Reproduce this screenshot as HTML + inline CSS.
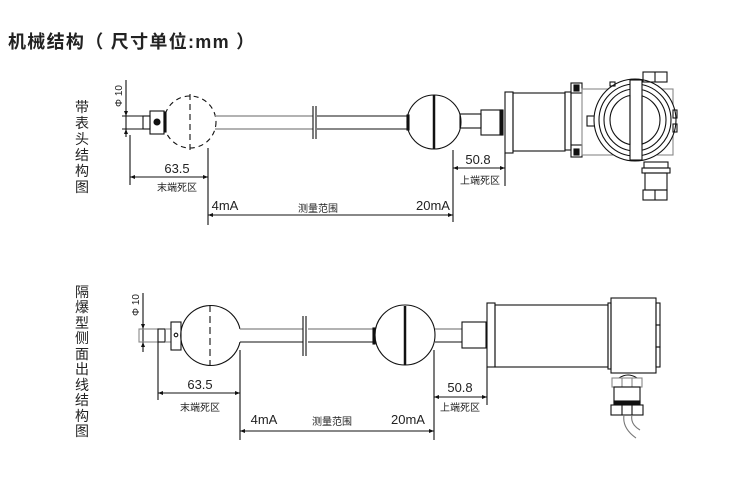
<!DOCTYPE html>
<html><head><meta charset="utf-8"><style>
html,body{margin:0;padding:0;background:#fff;}
svg{display:block;font-family:"Liberation Sans","Noto Sans CJK SC",sans-serif;}
</style></head><body>
<svg width="748" height="484" viewBox="0 0 748 484" xmlns="http://www.w3.org/2000/svg">
<text x="8" y="48" font-size="18" font-weight="bold" fill="#222" letter-spacing="1.3" font-family="'Liberation Sans','Noto Sans CJK SC',sans-serif">机械结构（ 尺寸单位:mm ）</text>

<!-- vertical labels -->
<g font-size="14" fill="#222" text-anchor="middle">
<text x="82" y="112">带</text><text x="82" y="128">表</text><text x="82" y="144">头</text><text x="82" y="160">结</text><text x="82" y="176">构</text><text x="82" y="192">图</text>
<text x="82" y="297">隔</text><text x="82" y="312">爆</text><text x="82" y="328">型</text><text x="82" y="343">侧</text><text x="82" y="359">面</text><text x="82" y="374">出</text><text x="82" y="390">线</text><text x="82" y="405">结</text><text x="82" y="421">构</text><text x="82" y="436">图</text>
</g>

<g stroke="#111" fill="none" stroke-width="1.1">
<!-- ===== TOP ===== -->
<line x1="126" y1="80" x2="126" y2="137"/>
<line x1="122" y1="116" x2="143" y2="116"/><line x1="122" y1="129" x2="143" y2="129"/>
<rect x="143" y="116" width="7" height="13"/>
<rect x="150" y="111" width="14" height="23"/>
<circle cx="157" cy="122" r="3" fill="#111"/>
<rect x="164" y="112" width="2" height="20" fill="#111"/>
<circle cx="190" cy="122" r="26" stroke-dasharray="5,4"/>
<line x1="190" y1="94" x2="190" y2="152" stroke-dasharray="6,4"/>
<line x1="215" y1="116" x2="313" y2="116" stroke="#999" stroke-width="1.5"/><line x1="215" y1="129" x2="313" y2="129" stroke="#999" stroke-width="1.5"/>
<line x1="317" y1="116" x2="408" y2="116"/><line x1="317" y1="129" x2="408" y2="129"/>
<line x1="313" y1="106" x2="313" y2="139"/><line x1="316" y1="106" x2="316" y2="139"/>
<rect x="407" y="115" width="2" height="15" fill="#111"/>
<circle cx="434" cy="122" r="27"/>
<line x1="434" y1="95" x2="434" y2="149" stroke-width="2.5"/>
<rect x="460" y="114" width="21" height="14"/>
<rect x="481" y="110" width="21" height="25"/>
<rect x="500" y="110" width="3" height="25" fill="#111"/>
<rect x="505" y="92" width="8" height="61"/>
<rect x="513" y="93" width="52" height="58"/>
<rect x="565" y="92" width="6" height="58"/>
<rect x="571" y="83" width="11" height="10"/><rect x="574" y="85" width="5" height="6" fill="#111"/>
<rect x="571" y="145" width="11" height="12"/><rect x="574" y="149" width="5" height="6" fill="#111"/>
<line x1="571" y1="93" x2="571" y2="145"/>
<rect x="582" y="89" width="91" height="66" stroke="#888"/>
<rect x="587" y="116" width="10" height="10"/>
<circle cx="635" cy="120" r="41" fill="#fff"/>
<circle cx="635" cy="120" r="36"/>
<circle cx="635" cy="120" r="31"/>
<circle cx="635" cy="120" r="25"/>
<rect x="630" y="80" width="12" height="80" fill="#fff"/>
<line x1="630" y1="95" x2="630" y2="145"/><line x1="642" y1="95" x2="642" y2="145"/>
<rect x="643" y="72" width="24" height="10"/><line x1="655" y1="72" x2="655" y2="82"/>
<rect x="673" y="110" width="4" height="8"/><rect x="673" y="124" width="4" height="8"/>
<rect x="610" y="82" width="5" height="4"/>
<rect x="644" y="162" width="24" height="6"/><rect x="642" y="168" width="28" height="5"/>
<rect x="645" y="173" width="22" height="17"/><rect x="643" y="190" width="24" height="10"/><line x1="655" y1="190" x2="655" y2="200"/>

<!-- top dims -->
<line x1="130" y1="135" x2="130" y2="185"/>
<line x1="208" y1="148" x2="208" y2="225"/>
<line x1="130" y1="177" x2="208" y2="177"/>
<line x1="208" y1="215" x2="453" y2="215"/>
<line x1="453" y1="150" x2="453" y2="222"/>
<line x1="453" y1="168" x2="505" y2="168"/>
<line x1="505" y1="153" x2="505" y2="186"/>

<!-- ===== BOTTOM ===== -->
<line x1="143" y1="293" x2="143" y2="352"/>
<rect x="139" y="329" width="19" height="13" stroke="#888"/>
<rect x="158" y="329" width="7" height="13"/>
<line x1="165" y1="329" x2="171" y2="329" stroke="#888"/><line x1="165" y1="342" x2="171" y2="342" stroke="#888"/>
<rect x="171" y="322" width="10" height="28"/>
<circle cx="176" cy="335" r="1.8"/>
<path d="M240 329 A30 30 0 1 0 240 342"/>
<line x1="210" y1="305" x2="210" y2="365" stroke-dasharray="7,4"/>
<line x1="240" y1="329" x2="303" y2="329" stroke="#999" stroke-width="1.5"/><line x1="240" y1="342" x2="303" y2="342"/>
<line x1="308" y1="329" x2="374" y2="329" stroke="#999" stroke-width="1.5"/><line x1="308" y1="342" x2="374" y2="342"/>
<line x1="303" y1="316" x2="303" y2="356"/><line x1="306" y1="316" x2="306" y2="356"/>
<rect x="373" y="328" width="2" height="16" fill="#111"/>
<circle cx="405" cy="335" r="30"/>
<line x1="405" y1="306" x2="405" y2="365" stroke-width="2.5"/>
<line x1="435" y1="329" x2="462" y2="329" stroke="#999" stroke-width="1.5"/><line x1="435" y1="342" x2="462" y2="342"/>
<rect x="462" y="322" width="24" height="26"/>
<rect x="487" y="303" width="8" height="64"/>
<rect x="495" y="305" width="113" height="62"/>
<rect x="608" y="303" width="3" height="66"/>
<rect x="611" y="298" width="45" height="75"/>
<rect x="656" y="303" width="4" height="22"/><rect x="656" y="325" width="4" height="22"/><rect x="656" y="347" width="4" height="20"/>
<path d="M619 378 Q628 372 637 378"/>
<rect x="612" y="378" width="30" height="9" stroke="#888"/><line x1="622" y1="378" x2="622" y2="387" stroke="#888"/><line x1="632" y1="378" x2="632" y2="387" stroke="#888"/>
<rect x="614" y="387" width="26" height="16"/>
<rect x="614" y="401" width="26" height="3" fill="#111"/>
<rect x="611" y="405" width="32" height="10"/><line x1="622" y1="405" x2="622" y2="415"/><line x1="632" y1="405" x2="632" y2="415"/>
<path d="M624 415 Q622 428 636 438 M632 415 Q630 424 640 430" stroke="#777"/>

<!-- bottom dims -->
<line x1="158" y1="342" x2="158" y2="400"/>
<line x1="240" y1="350" x2="240" y2="440"/>
<line x1="158" y1="393" x2="240" y2="393"/>
<line x1="240" y1="431" x2="434" y2="431"/>
<line x1="434" y1="350" x2="434" y2="440"/>
<line x1="434" y1="397" x2="487" y2="397"/>
<line x1="487" y1="367" x2="487" y2="405"/>
</g>

<g fill="#111">
<path d="M126 116 l-2 -5 h4z M126 129 l-2 5 h4z"/>
<path d="M130 177 l5 -2 v4z M208 177 l-5 -2 v4z M208 215 l5 -2 v4z M453 215 l-5 -2 v4z M453 168 l5 -2 v4z M505 168 l-5 -2 v4z"/>
<path d="M143 329 l-2 -5 h4z M143 342 l-2 5 h4z"/>
<path d="M158 393 l5 -2 v4z M240 393 l-5 -2 v4z M240 431 l5 -2 v4z M434 431 l-5 -2 v4z M434 397 l5 -2 v4z M487 397 l-5 -2 v4z"/>
</g>

<g fill="#222" font-size="13" text-anchor="middle">
<text x="177" y="173">63.5</text>
<text x="177" y="191" font-size="10">末端死区</text>
<text x="225" y="210">4mA</text>
<text x="318" y="212" font-size="10">测量范围</text>
<text x="433" y="210">20mA</text>
<text x="478" y="164">50.8</text>
<text x="480" y="184" font-size="10">上端死区</text>
<text x="200" y="389">63.5</text>
<text x="200" y="411" font-size="10">末端死区</text>
<text x="264" y="424">4mA</text>
<text x="332" y="425" font-size="10">测量范围</text>
<text x="408" y="424">20mA</text>
<text x="460" y="392">50.8</text>
<text x="460" y="411" font-size="10">上端死区</text>
<text transform="translate(122,96) rotate(-90)" font-size="10">Φ 10</text>
<text transform="translate(139,305) rotate(-90)" font-size="10">Φ 10</text>
</g>
</svg>
</body></html>
